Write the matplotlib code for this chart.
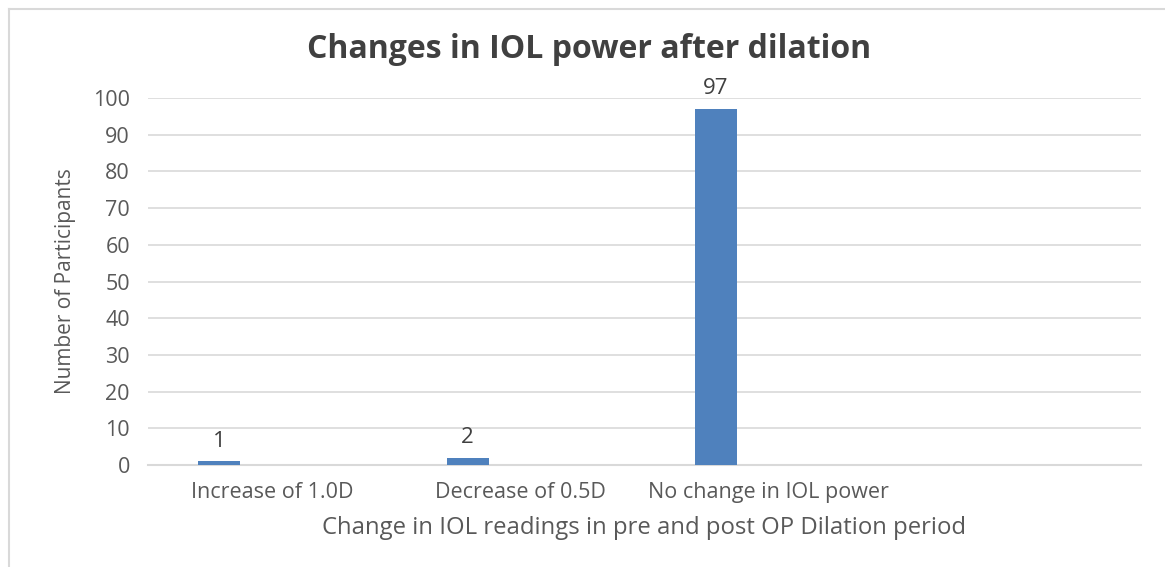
import numpy as np
import matplotlib
matplotlib.use('Agg')
import matplotlib.pyplot as plt
from matplotlib.lines import Line2D

categories = ['Increase of 1.0D', 'Decrease of 0.5D', 'No change in IOL power']
participants = [1, 2, 97]
n_slots = 4  # excel left an empty 4th category slot
y_ticks = list(range(0, 101, 10))

plt.rcParams['font.family'] = ['Open Sans', 'DejaVu Sans']

fig = plt.figure(figsize=(11.65, 5.67), dpi=100)
ax = fig.add_axes([0.127, 0.180, 0.852, 0.647])

x = np.arange(len(categories))
bars = ax.bar(x - 0.212, participants, width=0.169, color='#4f81bd', zorder=3)

for b, v in zip(bars, participants):
    ax.annotate(str(v), (b.get_x() + b.get_width() / 2, v), xytext=(0, 7),
                textcoords='offset points', ha='center', va='bottom',
                fontsize=16, color='#404040')

ax.set_xlim(-0.5, n_slots - 0.5)
ax.set_ylim(0, 100)
ax.set_yticks(y_ticks)
ax.set_xticks(x)
ax.set_xticklabels(categories)
ax.tick_params(axis='both', length=0, colors='#595959')
ax.tick_params(axis='y', pad=13, labelsize=15.5)
ax.tick_params(axis='x', pad=12, labelsize=15.5)
ax.grid(axis='y', color='#d9d9d9', linewidth=1.2, zorder=0)
for s in ['top', 'right', 'left']:
    ax.spines[s].set_visible(False)
ax.spines['bottom'].set_color('#d9d9d9')
ax.spines['bottom'].set_linewidth(1.5)

ax.set_ylabel('Number of Participants', fontsize=15, color='#595959', labelpad=12)
ax.set_xlabel('Change in IOL readings in pre and post OP Dilation period',
              fontsize=17.2, color='#595959', labelpad=10)
fig.text(0.506, 0.913, 'Changes in IOL power after dilation', ha='center',
         va='center', fontsize=23, fontweight='bold', color='#404040')

# chart frame, partly cropped in the original
fig.add_artist(Line2D([9 / 1165, 1], [1 - 9 / 567, 1 - 9 / 567], color='#d9d9d9',
                      linewidth=1.5, transform=fig.transFigure))
fig.add_artist(Line2D([9 / 1165, 9 / 1165], [0, 1 - 9 / 567], color='#d9d9d9',
                      linewidth=1.5, transform=fig.transFigure))

fig.savefig('out.png', dpi=100)
